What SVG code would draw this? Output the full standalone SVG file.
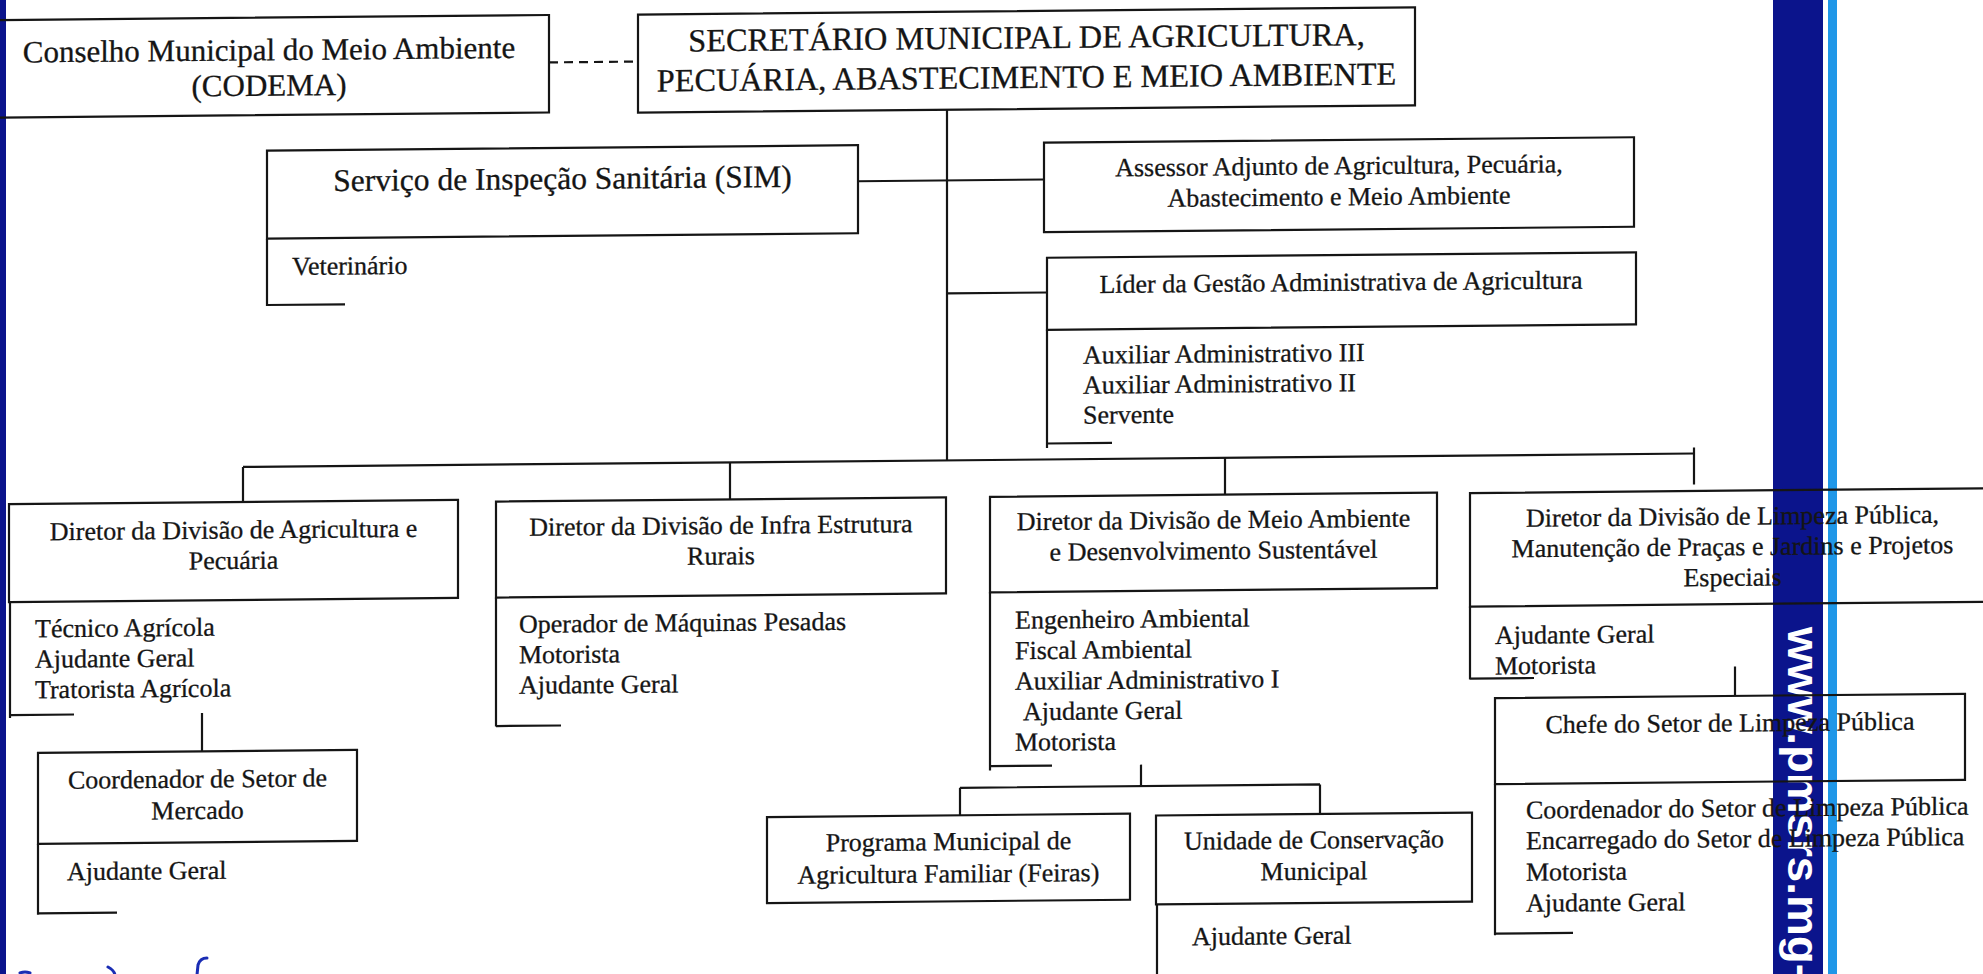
<svg xmlns="http://www.w3.org/2000/svg" width="1983" height="974" viewBox="0 0 1983 974">
<style>
.b{fill:none;stroke:#151515;stroke-width:2.2}
.l{fill:none;stroke:#151515;stroke-width:2.2}
.t{font-family:'Liberation Serif','Times New Roman',serif;fill:#151515;stroke:#151515;stroke-width:0.3}
.c{text-anchor:middle}
.L{font-size:31.5px}
.s{font-size:26px}
.hw{fill:none;stroke:#1a2db4;stroke-width:3;stroke-linecap:round}
</style>
<rect x="0" y="0" width="1983" height="974" fill="#ffffff"/>
<rect x="1773" y="0" width="50" height="974" fill="#0b148c"/>
<rect x="1828" y="0" width="9" height="974" fill="#1f97e8"/>
<rect x="0" y="0" width="6" height="974" fill="#0b148c"/>
<text x="1788" y="627" transform="rotate(90 1788 627)" font-family="'Liberation Sans',Arial,sans-serif" font-weight="bold" font-size="44" fill="#ffffff" textLength="352" lengthAdjust="spacingAndGlyphs">www.pmsrs.mg-</text>
<g transform="translate(0 9.17) skewY(-0.53)">
<g id="connectors">
<path class="l" d="M549 58.3H638" stroke-dasharray="9 6"/>
<path class="l" d="M947 109.3V460"/>
<path class="l" d="M858 180H1044"/>
<path class="l" d="M947 293H1047"/>
<path class="l" d="M243 460H1694"/>
<path class="l" d="M243 460V495M730 460V497M1225 460V497M1694 454V491"/>
<path class="l" d="M202 705.6V744"/>
<path class="l" d="M1141 766V787.5M960 787.5H1320M960 787.5V815M1320 787.5V817"/>
<path class="l" d="M1735 673.3V702.8"/>
</g>
<g id="codema">
<rect class="b" x="-10" y="10.9" width="559" height="97.5"/>
<text class="t c" font-size="31" x="269" y="53.5">Conselho Municipal do Meio Ambiente</text>
<text class="t c" font-size="31" x="269" y="89">(CODEMA)</text>
</g>
<g id="secretario">
<rect class="b" x="638" y="11.3" width="777" height="98"/>
<text class="t c" font-size="32.3" x="1026.5" y="48.6">SECRETÁRIO MUNICIPAL DE AGRICULTURA,</text>
<text class="t c" font-size="32.3" x="1026.5" y="88.3">PECUÁRIA, ABASTECIMENTO E MEIO AMBIENTE</text>
</g>
<g id="sim">
<rect class="b" x="267" y="144" width="591" height="88"/>
<text class="t c L" x="562.5" y="185">Serviço de Inspeção Sanitária (SIM)</text>
<path class="l" d="M267 232V298.3H345"/>
<text class="t s" x="292" y="268.5">Veterinário</text>
</g>
<g id="assessor">
<rect class="b" x="1044" y="143.2" width="590" height="89.5"/>
<text class="t c s" x="1339" y="177.5">Assessor Adjunto de Agricultura, Pecuária,</text>
<text class="t c s" x="1339" y="208.5">Abastecimento e Meio Ambiente</text>
</g>
<g id="lider">
<rect class="b" x="1047" y="258.3" width="589" height="72"/>
<text class="t c s" x="1341" y="294">Líder da Gestão Administrativa de Agricultura</text>
<path class="l" d="M1047 330V448.5M1047 444H1112"/>
<text class="t s" x="1083" y="364.5">Auxiliar Administrativo III</text>
<text class="t s" x="1083" y="394.5">Auxiliar Administrativo II</text>
<text class="t s" x="1083" y="424.5">Servente</text>
</g>
<g id="div-agricultura">
<rect class="b" x="9" y="495" width="449" height="98"/>
<text class="t c s" x="233.5" y="531.5">Diretor da Divisão de Agricultura e</text>
<text class="t c s" x="233.5" y="562">Pecuária</text>
<path class="l" d="M10 593V709M10 706H74"/>
<text class="t s" x="35" y="628.5">Técnico Agrícola</text>
<text class="t s" x="35" y="659">Ajudante Geral</text>
<text class="t s" x="35" y="689.5">Tratorista Agrícola</text>
</g>
<g id="coord-mercado">
<rect class="b" x="38" y="744" width="319" height="91"/>
<text class="t c s" x="197.5" y="780.2">Coordenador de Setor de</text>
<text class="t c s" x="197.5" y="811.7">Mercado</text>
<path class="l" d="M38 835V906M38 904.6H117"/>
<text class="t s" x="67" y="871.7">Ajudante Geral</text>
</g>
<g id="div-infra">
<rect class="b" x="496" y="497" width="450" height="96"/>
<text class="t c s" x="721" y="531.5">Diretor da Divisão de Infra Estrutura</text>
<text class="t c s" x="721" y="562">Rurais</text>
<path class="l" d="M496 593V722M496 721.5H561"/>
<text class="t s" x="519" y="628.5">Operador de Máquinas Pesadas</text>
<text class="t s" x="519" y="659">Motorista</text>
<text class="t s" x="519" y="689.5">Ajudante Geral</text>
</g>
<g id="div-meio-ambiente">
<rect class="b" x="990" y="496.8" width="447" height="95.5"/>
<text class="t c s" x="1213.5" y="530.5">Diretor da Divisão de Meio Ambiente</text>
<text class="t c s" x="1213.5" y="561.2">e Desenvolvimento Sustentável</text>
<path class="l" d="M990 592V770.5M990 766.2H1052"/>
<text class="t s" x="1015" y="628.9">Engenheiro Ambiental</text>
<text class="t s" x="1015" y="659.4">Fiscal Ambiental</text>
<text class="t s" x="1015" y="690">Auxiliar Administrativo I</text>
<text class="t s" x="1023" y="720.5">Ajudante Geral</text>
<text class="t s" x="1015" y="751">Motorista</text>
</g>
<g id="programa">
<rect class="b" x="767" y="815" width="363" height="86"/>
<text class="t c s" x="948.5" y="849.8">Programa Municipal de</text>
<text class="t c s" x="948.5" y="882">Agricultura Familiar (Feiras)</text>
</g>
<g id="unidade">
<rect class="b" x="1156" y="817" width="316" height="89"/>
<text class="t c s" x="1314" y="851.5">Unidade de Conservação</text>
<text class="t c s" x="1314" y="882.7">Municipal</text>
<path class="l" d="M1157 906V995"/>
<text class="t s" x="1192" y="947">Ajudante Geral</text>
</g>
<g id="div-limpeza">
<rect class="b" x="1470" y="497.5" width="526" height="113.5"/>
<text class="t c s" x="1732.5" y="531.6">Diretor da Divisão de Limpeza Pública,</text>
<text class="t c s" x="1732.5" y="562.1">Manutenção de Praças e Jardins e Projetos</text>
<text class="t c s" x="1732.5" y="592.7">Especiais</text>
<path class="l" d="M1470 611V684M1470 683H1534"/>
<text class="t s" x="1495" y="648.6">Ajudante Geral</text>
<text class="t s" x="1495" y="679.1">Motorista</text>
</g>
<g id="chefe-limpeza">
<rect class="b" x="1495" y="702.8" width="470" height="86"/>
<text class="t c s" x="1730" y="738.3">Chefe do Setor de Limpeza Pública</text>
<path class="l" d="M1495 789V940M1495 938.3H1573"/>
<text class="t s" x="1526" y="823.6">Coordenador do Setor de Limpeza Pública</text>
<text class="t s" x="1526" y="854.1">Encarregado do Setor de Limpeza Pública</text>
<text class="t s" x="1526" y="885.6">Motorista</text>
<text class="t s" x="1526" y="916.8">Ajudante Geral</text>
</g>
</g>
<g id="handwriting">
<path class="hw" d="M20 973q5-2 10 0"/>
<path class="hw" d="M108 967q6 3 7 8"/>
<path class="hw" d="M207 958q-7 0-9 7l-1 10"/>
</g>
</svg>
